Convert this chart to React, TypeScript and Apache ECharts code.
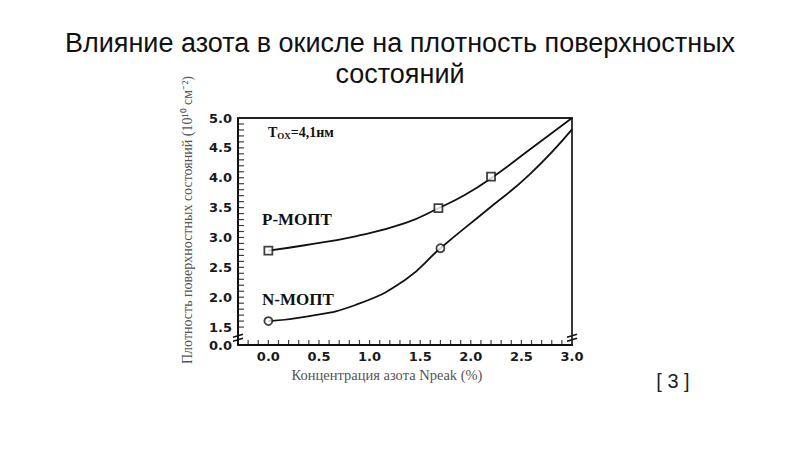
import React, { useEffect, useRef } from "react";
import * as echarts from "echarts";

// Measured points
const pPointsX = [0.0, 1.68, 2.2];
const pPointsY = [2.78, 3.49, 4.02];
const nPointsX = [0.0, 1.7];
const nPointsY = [1.6, 2.82];

// Fitted curves
const pCurveX = [0.0, 0.36, 0.86, 1.35, 1.68, 1.94, 2.2, 2.59, 3.0];
const pCurveY = [2.78, 2.87, 3.02, 3.24, 3.49, 3.71, 3.99, 4.48, 5.0];
const nCurveX = [0.0, 0.36, 0.86, 1.35, 1.7, 2.16, 2.59, 3.0];
const nCurveY = [1.6, 1.67, 1.87, 2.29, 2.82, 3.46, 4.07, 4.81];

// Axis tick labels
const xTicks = [0, 0.5, 1.0, 1.5, 2.0, 2.5, 3.0];
const yTicks = [1.2, 1.5, 2.0, 2.5, 3.0, 3.5, 4.0, 4.5, 5.0];
const yTickLabels = ["0.0", "1.5", "2.0", "2.5", "3.0", "3.5", "4.0", "4.5", "5.0"];
// Minor tick marks along the frame
const yMinorTicks = [1.5, 1.6, 1.7, 1.8, 1.9, 2.0, 2.1, 2.2, 2.3, 2.4, 2.5, 2.6, 2.7, 2.8, 2.9, 3.0, 3.1, 3.2, 3.3, 3.4, 3.5, 3.6, 3.7, 3.8, 3.9, 4.0, 4.1, 4.2, 4.3, 4.4, 4.5, 4.6, 4.7, 4.8, 4.9];
const xMinorTicks = [-0.2, -0.1, 0, 0.1, 0.2, 0.3, 0.4, 0.5, 0.6, 0.7, 0.8, 0.9, 1.0, 1.1, 1.2, 1.3, 1.4, 1.5, 1.6, 1.7, 1.8, 1.9, 2.0, 2.1, 2.2, 2.3, 2.4, 2.5, 2.6, 2.7, 2.8, 2.9];

const title = "Влияние азота в окисле на плотность поверхностных\nсостояний";
const yName = "Плотность поверхностных состояний (10¹⁰ см⁻²)";
const xName = "Концентрация азота Npeak (%)";

const zip = (xs: number[], ys: number[]) => xs.map((x, i) => [x, ys[i]]);

export default function App() {
  const ref = useRef<HTMLDivElement>(null);
  useEffect(() => {
    if (!ref.current) return;
    const chart = echarts.init(ref.current, null, { renderer: "svg" });
    const tickFont = {
      color: "#1a1a1a",
      fontWeight: "bold" as const,
      fontSize: 13,
      fontFamily: "DejaVu Sans",
    };
    chart.setOption({
      animation: false,
      backgroundColor: "#fff",
      title: {
        text: title,
        left: "center",
        top: 22,
        textStyle: {
          fontFamily: "Liberation Sans",
          fontWeight: "normal",
          fontSize: 27,
          color: "#111",
          lineHeight: 31,
        },
      },
      grid: { left: 238, right: 228, top: 118, bottom: 105, show: false },
      xAxis: [
        {
          type: "value",
          min: -0.3,
          max: 3.0,
          axisLine: { show: true, onZero: false, lineStyle: { color: "#111", width: 2 } },
          axisTick: { show: false },
          splitLine: { show: false },
          axisLabel: {
            ...tickFont,
            margin: 5,
            customValues: xTicks,
            formatter: (v: number) => v.toFixed(1),
          },
        },
        {
          type: "value",
          position: "top",
          min: -0.3,
          max: 3.0,
          axisLine: { show: true, onZero: false, lineStyle: { color: "#222", width: 1.8 } },
          axisTick: { show: false },
          axisLabel: { show: false },
          splitLine: { show: false },
        },
      ],
      yAxis: [
        {
          type: "value",
          min: 1.2,
          max: 5.0,
          axisLine: { show: true, onZero: false, lineStyle: { color: "#111", width: 2 } },
          axisTick: { show: false },
          splitLine: { show: false },
          axisLabel: {
            ...tickFont,
            margin: 6,
            customValues: yTicks,
            formatter: (v: number) => {
              const i = yTicks.findIndex((t) => Math.abs(t - v) < 1e-6);
              return i >= 0 ? yTickLabels[i] : "";
            },
          },
        },
        {
          type: "value",
          position: "right",
          min: 1.2,
          max: 5.0,
          axisLine: { show: true, onZero: false, lineStyle: { color: "#222", width: 1.8 } },
          axisTick: { show: false },
          axisLabel: { show: false },
          splitLine: { show: false },
        },
      ],
      series: [
        {
          type: "line",
          data: zip(pCurveX, pCurveY),
          smooth: 0.5,
          showSymbol: false,
          lineStyle: { color: "#111", width: 1.8 },
          z: 2,
        },
        {
          type: "line",
          data: zip(nCurveX, nCurveY),
          smooth: 0.5,
          showSymbol: false,
          lineStyle: { color: "#111", width: 1.8 },
          z: 2,
        },
        {
          type: "scatter",
          data: zip(pPointsX, pPointsY),
          symbol: "rect",
          symbolSize: 8,
          itemStyle: { color: "#fff", borderColor: "#111", borderWidth: 1.8 },
          z: 3,
        },
        {
          type: "scatter",
          data: zip(nPointsX, nPointsY),
          symbol: "circle",
          symbolSize: 8,
          itemStyle: { color: "#fff", borderColor: "#111", borderWidth: 1.8 },
          z: 3,
        },
        {
          type: "scatter",
          data: yMinorTicks.map((v) => [-0.3, v]),
          symbol: "rect",
          symbolSize: [6, 1.2],
          symbolOffset: [3, 0],
          itemStyle: { color: "#111" },
          silent: true,
          z: 1,
        },
        {
          type: "scatter",
          data: xMinorTicks.map((v) => [v, 1.2]),
          symbol: "rect",
          symbolSize: [1.2, 5],
          symbolOffset: [0, -2.5],
          itemStyle: { color: "#111" },
          silent: true,
          z: 1,
        },
      ],
    });

    const px = (x: number, y: number) => chart.convertToPixel({ gridIndex: 0 }, [x, y]) as number[];
    const pL = px(-0.3, 1.33);
    const pR = px(3.0, 1.33);
    const breakMark = (x: number, y: number) => ({
      type: "group",
      children: [
        { type: "rect", shape: { x: x - 4, y: y - 2, width: 8, height: 5 }, style: { fill: "#fff" } },
        { type: "line", shape: { x1: x - 5, y1: y, x2: x + 5, y2: y - 3 }, style: { stroke: "#111", lineWidth: 1.5 } },
        { type: "line", shape: { x1: x - 5, y1: y + 4, x2: x + 5, y2: y + 1 }, style: { stroke: "#111", lineWidth: 1.5 } },
      ],
    });
    chart.setOption({
      graphic: [
        breakMark(pL[0], pL[1]),
        breakMark(pR[0], pR[1]),
        {
          type: "text",
          x: 187,
          y: 220,
          rotation: Math.PI / 2,
          style: {
            text: yName,
            fontFamily: "Liberation Serif",
            fontSize: 14,
            fill: "#555",
            align: "center",
            verticalAlign: "middle",
          },
        },
        {
          type: "text",
          x: 387,
          y: 375,
          style: {
            text: xName,
            fontFamily: "Liberation Serif",
            fontSize: 14.5,
            fill: "#555",
            align: "center",
            verticalAlign: "middle",
          },
        },
        {
          type: "text",
          x: 268,
          y: 132,
          style: {
            text: "{a|T}{b|OX}{a|=4,1нм}",
            verticalAlign: "middle",
            rich: {
              a: { fontFamily: "Liberation Serif", fontWeight: "bold", fontSize: 14, fill: "#111" },
              b: { fontFamily: "Liberation Serif", fontWeight: "bold", fontSize: 9, fill: "#111", padding: [7, 0, 0, 0] },
            },
          },
        },
        {
          type: "text",
          x: 262,
          y: 219,
          style: {
            text: "P-МОПТ",
            fontFamily: "Liberation Serif",
            fontWeight: "bold",
            fontSize: 17,
            fill: "#111",
            verticalAlign: "middle",
          },
        },
        {
          type: "text",
          x: 262,
          y: 299,
          style: {
            text: "N-МОПТ",
            fontFamily: "Liberation Serif",
            fontWeight: "bold",
            fontSize: 17,
            fill: "#111",
            verticalAlign: "middle",
          },
        },
        {
          type: "text",
          x: 673,
          y: 381,
          style: {
            text: "[ 3 ]",
            fontFamily: "Liberation Sans",
            fontSize: 20,
            fill: "#222",
            align: "center",
            verticalAlign: "middle",
          },
        },
      ],
    });
    return () => chart.dispose();
  }, []);
  return <div ref={ref} style={{ width: 800, height: 450, position: "fixed", left: 0, top: 0 }} />;
}
